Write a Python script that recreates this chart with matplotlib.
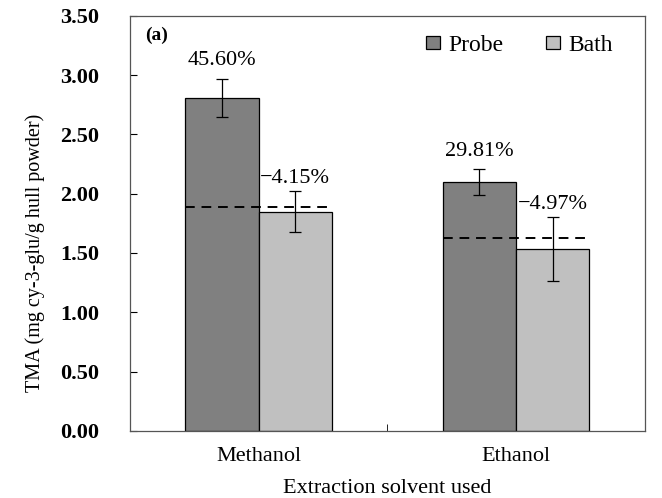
import numpy as np
import matplotlib
matplotlib.use("Agg")
from matplotlib import pyplot as plt

solvents = ["Methanol", "Ethanol"]
probe = [2.81, 2.10]
probe_err = [0.16, 0.11]
bath = [1.85, 1.53]
bath_err = [0.17, 0.27]
ref_level = [1.89, 1.63]
probe_pct = ["45.60%", "29.81%"]
bath_pct = ["\u22124.15%", "\u22124.97%"]

plt.rcParams["font.family"] = ["Liberation Serif", "DejaVu Serif"]

fig = plt.figure(figsize=(6.62, 4.98), dpi=100)
ax = fig.add_axes([0.196, 0.135, 0.778, 0.833])

x = np.arange(len(solvents))
w = 0.285
ax.bar(x - w / 2, probe, w, color="#808080", edgecolor="black", linewidth=0.9,
       yerr=probe_err, error_kw=dict(elinewidth=0.9, capsize=4, capthick=0.9),
       label="Probe", zorder=2)
ax.bar(x + w / 2, bath, w, color="#c0c0c0", edgecolor="black", linewidth=0.9,
       yerr=bath_err, error_kw=dict(elinewidth=0.9, capsize=4, capthick=0.9),
       label="Bath", zorder=2)

# dashed reference line over each pair
for i in range(len(solvents)):
    ax.hlines(ref_level[i], x[i] - w, x[i] + w, colors="black",
              linestyles=(0, (5, 3.5)), linewidth=1.4, zorder=3)
    ax.text(x[i] - w / 2, probe[i] + probe_err[i] + 0.07, probe_pct[i],
            ha="center", va="bottom", fontsize=16)
    ax.text(x[i] + w / 2, bath[i] + bath_err[i] + 0.03, bath_pct[i],
            ha="center", va="bottom", fontsize=16)

ax.set_xlim(-0.5, 1.5)
ax.set_ylim(0, 3.5)
ax.set_yticks(np.arange(0, 3.51, 0.5))
ax.set_yticklabels(["%.2f" % v for v in np.arange(0, 3.51, 0.5)],
                   fontsize=16, fontweight="bold")
ax.set_xticks(x)
ax.set_xticklabels(solvents, fontsize=16)
ax.set_xticks([0.5], minor=True)
ax.tick_params(axis="x", which="major", length=0, pad=12)
ax.tick_params(axis="x", which="minor", direction="in", length=5)
ax.tick_params(axis="y", direction="in", length=5, pad=22)
for s in ax.spines.values():
    s.set_color("#555555")
    s.set_linewidth(0.9)

ax.set_ylabel("TMA (mg cy-3-glu/g hull powder)", fontsize=14.5)
ax.yaxis.set_label_coords(-0.165, 0.43)
ax.set_xlabel("Extraction solvent used", fontsize=16, labelpad=9)
ax.text(0.03, 0.975, "(a)", transform=ax.transAxes, fontsize=14,
        fontweight="bold", va="top")

ax.legend(loc="upper right", frameon=False, fontsize=17, ncol=2,
          handlelength=0.6, handleheight=0.5, handletextpad=0.35,
          columnspacing=1.8, bbox_to_anchor=(0.98, 1.005))

fig.savefig("out.png", dpi=100)
